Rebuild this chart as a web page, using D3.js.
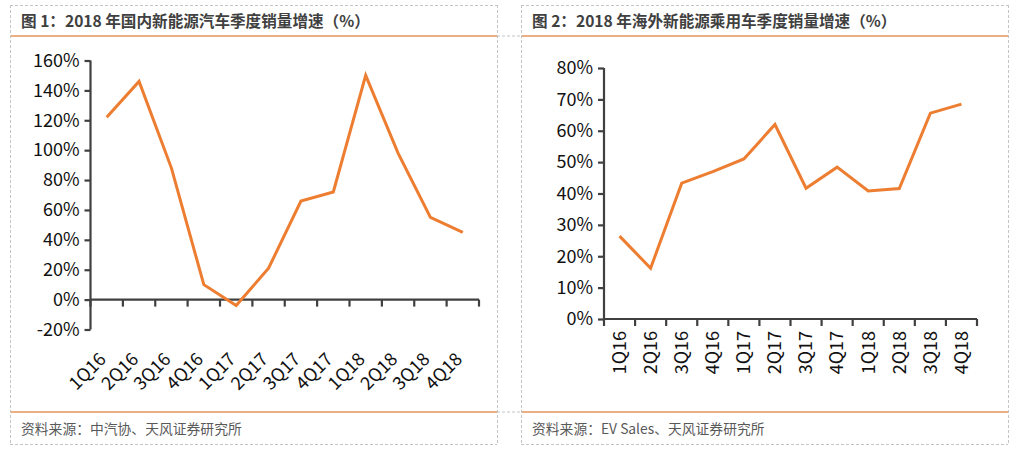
<!DOCTYPE html>
<html><head><meta charset="utf-8">
<script src="https://cdn.jsdelivr.net/npm/d3@7"></script>
<style>
body{margin:0;background:#fff;}
svg{display:block;}
</style></head>
<body>
<svg id="chart" width="1016" height="450"></svg>
<script>
const categories = ["1Q16","2Q16","3Q16","4Q16","1Q17","2Q17","3Q17","4Q17","1Q18","2Q18","3Q18","4Q18"];
const domesticGrowth = [122, 146, 88, 10, -4, 21, 66, 72, 150, 98, 55, 45];
const overseasGrowth = [26.4, 16.2, 43.3, 47, 51, 62, 41.7, 48.4, 40.8, 41.6, 65.6, 68.5];
const domesticTicks = [-20, 0, 20, 40, 60, 80, 100, 120, 140, 160];
const overseasTicks = [0, 10, 20, 30, 40, 50, 60, 70, 80];
const titles = ["图 1：2018 年国内新能源汽车季度销量增速（%）", "图 2：2018 年海外新能源乘用车季度销量增速（%）"];
const sources = ["资料来源：中汽协、天风证券研究所", "资料来源：EV Sales、天风证券研究所"];

const svg = d3.select("#chart");
const FONT = "'Microsoft YaHei','Noto Sans CJK SC','Noto Sans',sans-serif";
const ORANGE = "#ED7D31";
const HEAD = "#E5955A";
const DASH = "#c4c4c4";
const AXIS = "#404040";

// frame / dashed grid
const dashed = (x1,y1,x2,y2)=>svg.append("line").attr("x1",x1).attr("y1",y1).attr("x2",x2).attr("y2",y2)
  .attr("stroke",DASH).attr("stroke-width",1).attr("stroke-dasharray","3,2");
const panels = [{x0:10,x1:497},{x0:521,x1:1008}];
panels.forEach(p=>{
  dashed(p.x0,5.5,p.x1,5.5);
  dashed(p.x0,444.5,p.x1,444.5);
  dashed(p.x0+0.5,5,p.x0+0.5,445);
  dashed(p.x1+0.5,5,p.x1+0.5,445);
});
dashed(497,36,521,36);
dashed(497,412,521,412);

panels.forEach((p,i)=>{
  svg.append("line").attr("x1",p.x0+1).attr("x2",p.x1).attr("y1",36).attr("y2",36)
    .attr("stroke",HEAD).attr("stroke-width",1.5);
  svg.append("line").attr("x1",p.x0+1).attr("x2",p.x1).attr("y1",412).attr("y2",412)
    .attr("stroke",HEAD).attr("stroke-width",1.5);
  svg.append("text").attr("x",p.x0+11).attr("y",27).text(titles[i])
    .attr("font-family",FONT).attr("font-size",15.6).attr("font-weight","bold").attr("fill","#404040");
  svg.append("text").attr("x",p.x0+11).attr("y",434).text(sources[i])
    .attr("font-family",FONT).attr("font-size",13.8).attr("fill","#595959");
});

function drawChart(cfg){
  const g = svg.append("g");
  const x = d3.scaleBand().domain(categories).range([cfg.left, cfg.right]);
  const y = d3.scaleLinear().domain(cfg.domain).range([cfg.bottom, cfg.top]);
  // y axis
  const ya = g.append("g").attr("transform",`translate(${cfg.left},0)`)
    .call(d3.axisLeft(y).tickValues(cfg.ticks).tickSize(6).tickPadding(5).tickFormat(d=>d+"%"));
  ya.select(".domain").attr("stroke",AXIS).attr("stroke-width",2.2).attr("d",`M0,${y(cfg.domain[0])}V${y(cfg.domain[1])}`);
  ya.selectAll(".tick line").attr("stroke",AXIS).attr("stroke-width",2.2);
  ya.selectAll(".tick text").attr("font-family",FONT).attr("font-size",18).attr("fill","#111");
  // x axis at 0
  const xa = g.append("g").attr("transform",`translate(0,${y(0)})`)
    .call(d3.axisBottom(x).tickSize(0).tickFormat(""));
  xa.select(".domain").attr("stroke",AXIS).attr("stroke-width",2.2).attr("d",`M${cfg.left},0H${cfg.right}`);
  // tick marks at band boundaries
  const bounds = categories.map(c=>x(c)).concat([cfg.right]);
  g.selectAll(".xt").data(bounds).enter().append("line")
    .attr("x1",d=>d).attr("x2",d=>d).attr("y1",y(0)).attr("y2",y(0)+7)
    .attr("stroke",AXIS).attr("stroke-width",2.2);
  // labels
  g.selectAll(".xl").data(categories).enter().append("text")
    .attr("transform",d=>`translate(${x(d)+x.bandwidth()/2 + cfg.lx},${cfg.ly}) rotate(${cfg.rot})`)
    .attr("text-anchor","end").attr("dy","0.35em")
    .attr("font-family",FONT).attr("font-size",18).attr("fill","#111")
    .text(d=>d);
  // line
  const line = d3.line().x((d,i)=>x(categories[i])+x.bandwidth()/2).y(d=>y(d));
  g.append("path").datum(cfg.values).attr("d",line).attr("fill","none")
    .attr("stroke",ORANGE).attr("stroke-width",3).attr("stroke-linejoin","miter");
}

drawChart({left:90.5,right:479,top:60.5,bottom:329.5,domain:[-20,160],ticks:domesticTicks,values:domesticGrowth,rot:-45,lx:-4,ly:356});
drawChart({left:604,right:977,top:68,bottom:319,domain:[0,80],ticks:overseasTicks,values:overseasGrowth,rot:-90,lx:0,ly:331});
</script>
</body></html>
